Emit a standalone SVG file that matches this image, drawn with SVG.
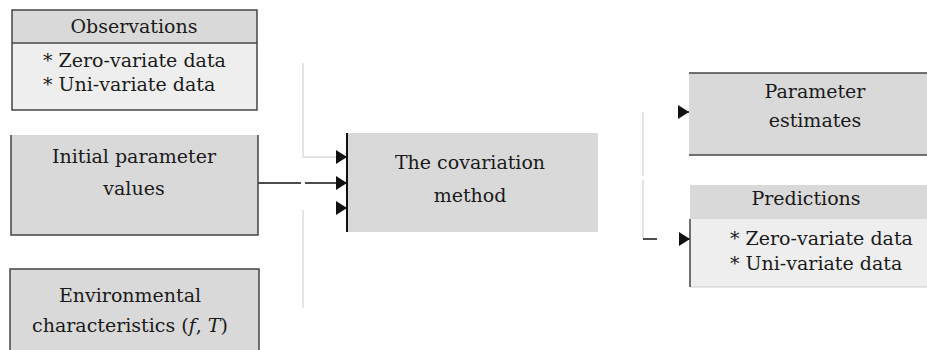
<svg xmlns="http://www.w3.org/2000/svg" width="927" height="350" viewBox="0 0 927 350">
<defs>
<style>
text{font-family:"DejaVu Serif","Liberation Serif",serif;font-size:19px;fill:#1a1a1a;}
.c{text-anchor:middle;}
.hd{fill:#d9d9d9;}
.bd{fill:#eeeeee;}
.edge{stroke:#444;stroke-width:1.5;fill:none;}
.gray{stroke:#dcdcdc;stroke-width:1.5;fill:none;}
.blk{stroke:#111;stroke-width:1.5;fill:none;}
</style>
<marker id="ah" markerUnits="userSpaceOnUse" markerWidth="11" markerHeight="14" refX="11" refY="7" orient="auto" viewBox="0 0 11 14">
<path d="M0,0 L11,7 L0,14 z" fill="#111"/>
</marker>
</defs>
<rect width="927" height="350" fill="#fff"/>

<g id="connectors">
<path class="gray" d="M303,63 V157 H336"/>
<line class="blk" x1="336" y1="157" x2="347" y2="157" marker-end="url(#ah)"/>
<line class="blk" x1="258" y1="183" x2="301" y2="183"/>
<line class="blk" x1="305" y1="183" x2="347" y2="183" marker-end="url(#ah)"/>
<path class="gray" d="M303,210 V308"/>
<line class="blk" x1="336" y1="208" x2="347" y2="208" marker-end="url(#ah)"/>
<path class="gray" d="M643,112 V176 M643,180 V239"/>
<line class="blk" x1="643" y1="239" x2="657" y2="239"/>
<line class="blk" x1="678" y1="112" x2="689" y2="112" marker-end="url(#ah)"/>
<line class="blk" x1="679" y1="239" x2="690" y2="239" marker-end="url(#ah)"/>
</g>

<g id="observations">
<rect class="hd" x="12" y="10" width="245" height="33"/>
<rect class="bd" x="12" y="43" width="245" height="67"/>
<rect class="edge" x="12" y="10" width="245" height="100"/>
<line class="edge" x1="12" y1="43" x2="257" y2="43"/>
<text class="c" x="134" y="33">Observations</text>
<text x="43" y="67">* Zero-variate data</text>
<text x="43" y="91">* Uni-variate data</text>
</g>

<g id="initial">
<rect class="hd" x="11" y="135" width="247" height="100"/>
<path class="edge" d="M11,135 V235 H258 V135"/>
<text class="c" x="134" y="163">Initial parameter</text>
<text class="c" x="134" y="195">values</text>
</g>

<g id="environmental">
<rect class="hd" x="10" y="269" width="249" height="90"/>
<path class="edge" d="M10,360 V269 H259 V360"/>
<text class="c" x="130" y="302">Environmental</text>
<text class="c" x="130" y="332">characteristics (<tspan font-style="italic">f</tspan>, <tspan font-style="italic">T</tspan>)</text>
</g>

<g id="covariation">
<rect class="hd" x="347" y="133" width="251" height="99"/>
<line stroke="#111" stroke-width="2" x1="347" y1="133" x2="347" y2="232"/>
<text class="c" x="470" y="169">The covariation</text>
<text class="c" x="470" y="202">method</text>
</g>

<g id="estimates">
<rect class="hd" x="689" y="73" width="245" height="82"/>
<line class="edge" x1="689" y1="73" x2="930" y2="73"/>
<line class="edge" x1="689" y1="155" x2="930" y2="155"/>
<text class="c" x="815" y="98">Parameter</text>
<text class="c" x="815" y="127">estimates</text>
</g>

<g id="predictions">
<rect class="hd" x="690" y="185" width="245" height="34"/>
<rect class="bd" x="690" y="219" width="245" height="68"/>
<line stroke="#ccc" stroke-width="1" x1="690" y1="287" x2="930" y2="287"/>
<line class="edge" x1="690" y1="219" x2="690" y2="287"/>
<text class="c" x="806" y="205">Predictions</text>
<text x="730" y="245">* Zero-variate data</text>
<text x="730" y="270">* Uni-variate data</text>
</g>
</svg>
